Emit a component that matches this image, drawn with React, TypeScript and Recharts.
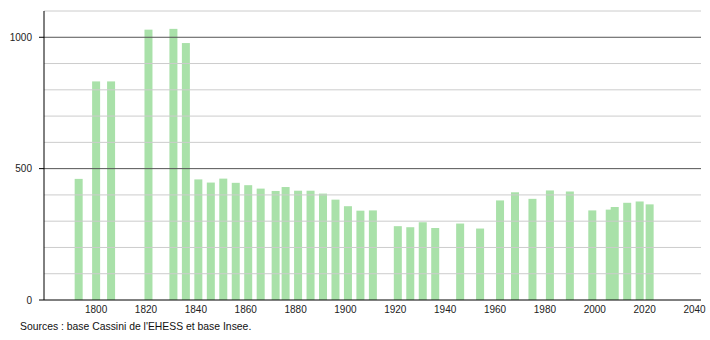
import { Bar, BarChart, ReferenceLine, XAxis, YAxis } from 'recharts';

const years = [
  1793, 1800, 1806, 1821, 1831, 1836, 1841, 1846, 1851, 1856, 1861, 1866, 1872, 1876, 1881, 1886, 1891, 1896, 1901,
  1906, 1911, 1921, 1926, 1931, 1936, 1946, 1954, 1962, 1968, 1975, 1982, 1990, 1999, 2006, 2008, 2013, 2018, 2022,
];
const population = [
  461, 832, 832, 1029, 1032, 978, 459, 447, 462, 446, 437, 424, 415, 430, 416, 416, 405, 382, 357, 340, 341, 281, 277,
  296, 274, 291, 272, 379, 410, 385, 417, 413, 341, 344, 354, 370, 375, 364,
];
const xTicks = [1800, 1820, 1840, 1860, 1880, 1900, 1920, 1940, 1960, 1980, 2000, 2020, 2040];
const yTicks = [0, 500, 1000];
const gridValues = [100, 200, 300, 400, 500, 600, 700, 800, 900, 1000, 1100];

const data = years.map((year, i) => ({ year, population: population[i] }));

const font = '"Liberation Sans", Arial, sans-serif';
const barColor = '#a9e1a9';

// recharts squeezes bars to the smallest year gap (2006/2008), so draw a fixed 8px bar around the centre
const WideBar = (props: any) => {
  const { x, y, width, height } = props;
  if (height == null || height <= 0) return null;
  return <rect x={x + width / 2 - 4} y={y} width={8} height={height} fill={barColor} />;
};

export default function App() {
  return (
    <div style={{ position: 'absolute', left: 0, top: 0, width: 710, height: 340, background: '#fff', fontFamily: font }}>
      <BarChart width={710} height={340} data={data} margin={{ top: 11, right: 9, left: 0, bottom: 10 }}>
        <XAxis
          dataKey="year"
          type="number"
          domain={[1779.1, 2042.6]}
          ticks={xTicks}
          height={30}
          tickLine={false}
          tickMargin={0}
          axisLine={{ stroke: '#000' }}
          tick={{ fill: '#222', fontSize: 10, fontFamily: font }}
        />
        <YAxis
          type="number"
          domain={[0, 1100]}
          ticks={yTicks}
          width={44}
          tickSize={5}
          tickMargin={7}
          axisLine={{ stroke: '#000' }}
          tickLine={{ stroke: '#000' }}
          tick={{ fill: '#222', fontSize: 10, fontFamily: font }}
        />
        {gridValues.map((v) => (
          <ReferenceLine key={v} y={v} stroke={v % 500 === 0 ? '#555555' : '#cccccc'} />
        ))}
        <Bar dataKey="population" fill={barColor} shape={WideBar} isAnimationActive={false} />
      </BarChart>
      <div style={{ position: 'absolute', left: 20, top: 321, fontSize: 10.4, color: '#111', whiteSpace: 'nowrap' }}>
        Sources : base Cassini de l'EHESS et base Insee.
      </div>
    </div>
  );
}
